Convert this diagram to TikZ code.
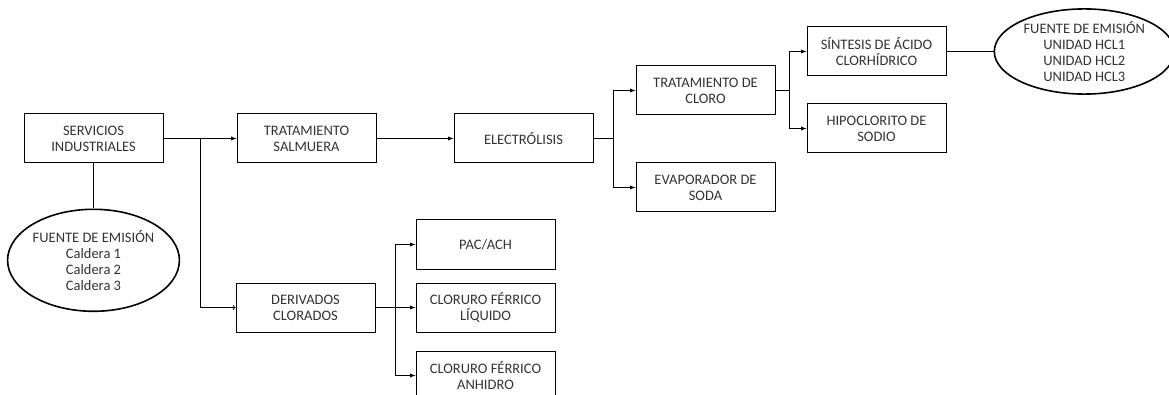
\documentclass[tikz,border=0pt]{standalone}
\usepackage{fontspec}
\setmainfont{Carlito}
\usetikzlibrary{shapes.geometric, arrows, positioning}

\begin{document}
\begin{tikzpicture}[
        x=1pt, y=1pt,
        >=latex,
        box/.style={
            draw,
            line width=1pt,
            minimum width=139pt,
            minimum height=49pt,
            inner sep=2pt,
            align=center
        },
        src/.style={
            draw,
            ellipse,
            line width=1.6pt,
            inner sep=0pt,
            align=center
        },
        arr/.style={
            ->,
            line width=0.9pt
        },
        lin/.style={
            line width=0.9pt
        },
        node distance=40pt,
        every node/.style={font=\fontsize{14.5}{16}\selectfont, text=black!80}
    ]
        \useasboundingbox (0,0) rectangle (1169,-395);

        \node[box] (serv) at (93.5,-138.5) {SERVICIOS\\INDUSTRIALES};
        \node[box, right=73pt of serv] (salm) {TRATAMIENTO\\SALMUERA};
        \node[box, right=77pt of salm] (elec) {ELECTRÓLISIS};
        \node[box, right=42pt of elec, yshift=48pt] (cloro) {TRATAMIENTO DE\\CLORO};
        \node[box, below=47pt of cloro] (evap) {EVAPORADOR DE\\SODA};
        \node[box, right=31pt of cloro, yshift=39pt] (sint) {SÍNTESIS DE ÁCIDO\\CLORHÍDRICO};
        \node[box, below=27pt of sint] (hipo) {HIPOCLORITO DE\\SODIO};
        \node[src, minimum width=180pt, minimum height=82pt, right=47pt of sint] (hcl)
            {FUENTE DE EMISIÓN\\UNIDAD HCL1\\UNIDAD HCL2\\UNIDAD HCL3};
        \node[src, minimum width=169pt, minimum height=102pt, below=45pt of serv] (cal)
            {FUENTE DE EMISIÓN\\Caldera 1\\Caldera 2\\Caldera 3};

        \node[box, below=119pt of salm, xshift=-1pt] (deriv) {DERIVADOS\\CLORADOS};
        \node[box, right=40pt of deriv, yshift=63pt] (pac) {PAC/ACH};
        \node[box, below=13pt of pac] (liq) {CLORURO FÉRRICO\\LÍQUIDO};
        \node[box, below=18pt of liq] (anh) {CLORURO FÉRRICO\\ANHIDRO};

        % split points
        \coordinate (split1) at ([xshift=37pt]serv.east);
        \coordinate (split2) at ([xshift=20pt]elec.east);
        \coordinate (split3) at ([xshift=14pt]cloro.east);
        \coordinate (split4) at ([xshift=20pt]deriv.east);

        \draw[arr] (serv) -- (salm);
        \draw[lin, -to] (split1) |- (deriv.west);
        \draw[lin] (serv) -- (cal);
        \draw[arr] (salm) -- (elec);

        \draw[arr] (elec.east) -- (split2) |- (cloro.west);
        \draw[arr] (split2) |- (evap.west);

        \draw[arr] (cloro.east) -- (split3) |- (sint.west);
        \draw[arr] (split3) |- (hipo.west);
        \draw[lin] (sint) -- (hcl);

        \draw[arr] (deriv.east) -- (split4) |- (liq.west);
        \draw[arr] (split4) |- (pac.west);
        \draw[arr] (split4) |- (anh.west);

    \end{tikzpicture}
\end{document}
